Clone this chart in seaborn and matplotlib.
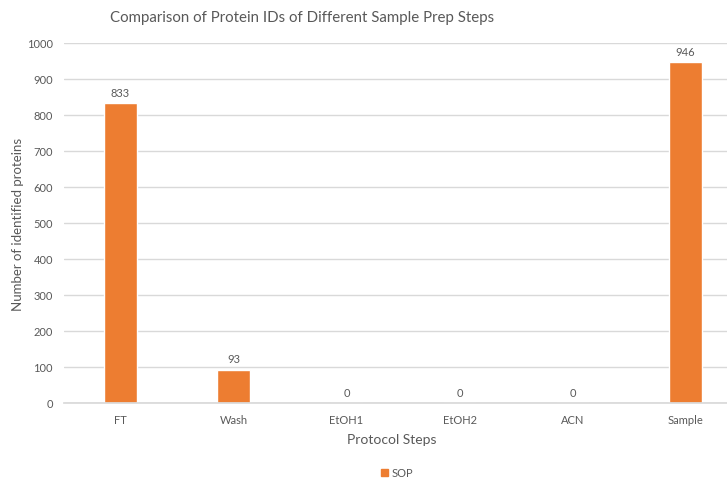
import matplotlib
matplotlib.use("Agg")
import matplotlib.pyplot as plt
import seaborn as sns
import pandas as pd

steps = ["FT", "Wash", "EtOH1", "EtOH2", "ACN", "Sample"]
protein_ids = [833, 93, 0, 0, 0, 946]
series_name = "SOP"
y_ticks = [0, 100, 200, 300, 400, 500, 600, 700, 800, 900, 1000]

BAR = "#ED7D31"
TXT = "#595959"
GRID = "#D9D9D9"

sns.set_theme(style="white")
plt.rcParams["font.family"] = ["Lato", "DejaVu Sans"]

df = pd.DataFrame({"step": steps, "count": protein_ids, "series": series_name})

W, H = 727, 481
fig = plt.figure(figsize=(W / 100, H / 100), dpi=100)
left, right, top, bottom = 64, 742, 44, 404
ax = fig.add_axes([left / W, 1 - bottom / H, (right - left) / W, (bottom - top) / H])

sns.barplot(data=df, x="step", y="count", hue="series", palette=[BAR],
            width=0.3, ax=ax, legend=False, saturation=1)

ax.set_ylim(0, 1000)
ax.set_yticks(y_ticks)
ax.set_xlim(-0.5, len(steps) - 0.5)
ax.yaxis.grid(True, color=GRID, linewidth=1)
ax.set_axisbelow(True)
for s in ["top", "right", "left"]:
    ax.spines[s].set_visible(False)
ax.spines["bottom"].set_color(GRID)
ax.tick_params(axis="both", length=0, labelsize=8, colors=TXT, pad=8)
ax.tick_params(axis="x", pad=8)

for i, v in enumerate(protein_ids):
    ax.text(i, v + 15, f"{v}", ha="center", va="bottom", fontsize=8, color=TXT)

ax.set_xlabel("Protocol Steps", fontsize=10, color=TXT)
ax.xaxis.set_label_coords((392 - left) / (right - left), -0.082)
ax.set_ylabel("Number of identified proteins", fontsize=9.5, color=TXT)
ax.yaxis.set_label_coords((24 - left) / (right - left), 0.5)

fig.text(110 / W, 1 - 18 / H, "Comparison of Protein IDs of Different Sample Prep Steps",
         ha="left", va="center", fontsize=10.8, color=TXT)

handle = plt.Rectangle((0, 0), 1, 1, color=BAR)
fig.legend([handle], [series_name], loc="center", bbox_to_anchor=(397 / W, 1 - 474 / H),
           frameon=False, fontsize=8, labelcolor=TXT, handlelength=0.6,
           handleheight=0.6, handletextpad=0.3)

fig.savefig("out.png", dpi=100)
